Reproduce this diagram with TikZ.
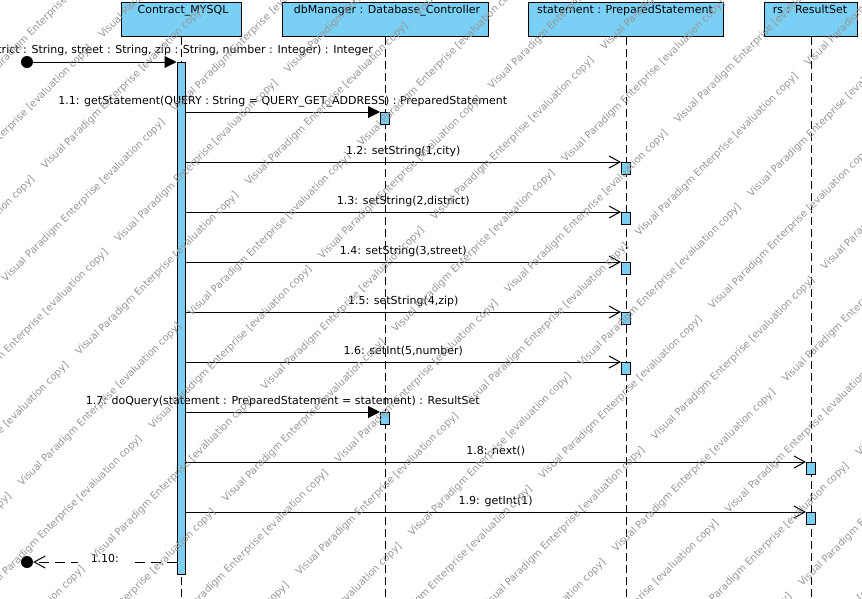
\documentclass[tikz,border=0pt]{standalone}
\usepackage{fontspec}
\setmainfont{DejaVu Sans}
\usetikzlibrary{arrows.meta}
\definecolor{vpblue}{RGB}{122,207,245}
\definecolor{wmgray}{RGB}{150,150,150}
\newcommand\wmrep{\makebox[240pt][l]{Visual Paradigm Enterprise [evaluation copy]}}
\newcommand\wmline{\wmrep\wmrep\wmrep\wmrep\wmrep\wmrep}
\begin{document}
\begin{tikzpicture}[x=1pt,y=-1pt, font=\fontsize{11}{13}\selectfont,
  head/.style={draw, fill=vpblue, line width=1pt, inner sep=0},
  headtxt/.style={anchor=base, inner sep=0},
  lifeline/.style={line width=1pt, dash pattern=on 8pt off 4pt},
  actbox/.style={draw, fill=vpblue, line width=1pt, minimum width=9pt, minimum height=12pt, inner sep=0, anchor=north},
  msg/.style={line width=1pt},
  sync/.style={msg, -{Triangle[length=12pt,width=12pt]}},
  async/.style={msg, -{Straight Barb[length=11pt,width=12pt]}},
  ret/.style={msg, dash pattern=on 10pt off 6pt, -{Straight Barb[length=11pt,width=12pt]}},
  mlabel/.style={anchor=base, inner sep=0, yshift=8pt},
  endpt/.style={circle, fill=black, minimum size=12pt, inner sep=0},
  wm/.style={anchor=base west, rotate=45, inner sep=0, text=wmgray, font=\fontsize{10}{12}\selectfont}
]
\useasboundingbox (0,0) rectangle (862,598);
\clip (0,0) rectangle (862,598);
\fill[white] (0,0) rectangle (862,598);
\coordinate (bot) at (0,600);

% lifeline heads
\node[head, minimum width=120pt, minimum height=34pt] (hcm) at (181,19.5) {};
\node[headtxt] (tcm) at (183,13) {Contract\_MYSQL};
\node[head, minimum width=206pt, minimum height=34pt] (hdb) at (385,19.5) {};
\node[headtxt] (tdb) at (387,13) {dbManager : Database\_Controller};
\node[head, minimum width=195pt, minimum height=34pt] (hst) at (626,19.5) {};
\node[headtxt] (tst) at (625,13) {statement : PreparedStatement};
\node[head, minimum width=93pt, minimum height=34pt] (hrs) at (811,19.5) {};
\node[headtxt] (trs) at (810,13) {rs : ResultSet};

% lifelines
\draw[lifeline] (hcm.south) -- (hcm.south |- bot);
\draw[lifeline] (hdb.south) -- (hdb.south |- bot);
\draw[lifeline] (hst.south) -- (hst.south |- bot);
\draw[lifeline] (hrs.south) -- (hrs.south |- bot);

% activations
\node[draw, fill=vpblue, line width=1pt, minimum width=8pt, minimum height=512pt, inner sep=0, anchor=north] (bar) at (181,62) {};
\node[actbox] (a11) at (385,112) {};
\node[actbox] (a12) at (626,162) {};
\node[actbox] (a13) at (626,212) {};
\node[actbox] (a14) at (626,262) {};
\node[actbox] (a15) at (626,312) {};
\node[actbox] (a16) at (626,362) {};
\node[actbox] (a17) at (385,412) {};
\node[actbox] (a18) at (811,462) {};
\node[actbox] (a19) at (811,512) {};

% end points
\node[endpt] (start) at (27,62) {};
\node[endpt] (stop) at (27,562) {};

% messages
\draw[sync] (start) -- (bar.north west);
\node[anchor=base east, inner sep=0] (l1) at (373,53.5) {district : String, street : String, zip : String, number : Integer) : Integer};
\draw[sync] (bar.east |- a11.north west) -- (a11.north west)
  node[mlabel, midway] (l11) {1.1: getStatement(QUERY : String = QUERY\_GET\_ADDRESS) : PreparedStatement};
\draw[async] (bar.east |- a12.north west) -- (a12.north west)
  node[mlabel, midway] (l12) {1.2: setString(1,city)};
\draw[async] (bar.east |- a13.north west) -- (a13.north west)
  node[mlabel, midway] (l13) {1.3: setString(2,district)};
\draw[async] (bar.east |- a14.north west) -- (a14.north west)
  node[mlabel, midway] (l14) {1.4: setString(3,street)};
\draw[async] (bar.east |- a15.north west) -- (a15.north west)
  node[mlabel, midway] (l15) {1.5: setString(4,zip)};
\draw[async] (bar.east |- a16.north west) -- (a16.north west)
  node[mlabel, midway] (l16) {1.6: setInt(5,number)};
\draw[sync] (bar.east |- a17.north west) -- (a17.north west)
  node[mlabel, midway] (l17) {1.7: doQuery(statement : PreparedStatement = statement) : ResultSet};
\draw[async] (bar.east |- a18.north west) -- (a18.north west)
  node[mlabel, midway] (l18) {1.8: next()};
\draw[async] (bar.east |- a19.north west) -- (a19.north west)
  node[mlabel, midway] (l19) {1.9: getInt(1)};
\draw[ret] (bar.west |- stop) -- (stop)
  node[midway, anchor=base, fill=white, inner xsep=13pt, inner ysep=2pt] (l110) {1.10:};

% watermark
\foreach \k in {-6,...,14}{
  \pgfmathsetmacro\wmc{435+73.4*\k}
  \pgfmathsetmacro\wmu{ifthenelse(mod(abs(\k),2)==0,64,216)}
  \pgfmathsetmacro\wmumin{2*max(0,\wmc-598)-\wmc}
  \pgfmathsetmacro\wmn{ceil((\wmu-\wmumin+30)/340)}
  \pgfmathsetmacro\wmus{\wmu-340*\wmn}
  \pgfmathsetmacro\wmx{(\wmc+\wmus)/2}
  \pgfmathsetmacro\wmy{(\wmc-\wmus)/2}
  \node[wm] (wm\k) at (\wmx,\wmy) {\wmline};
}
\end{tikzpicture}
\end{document}
